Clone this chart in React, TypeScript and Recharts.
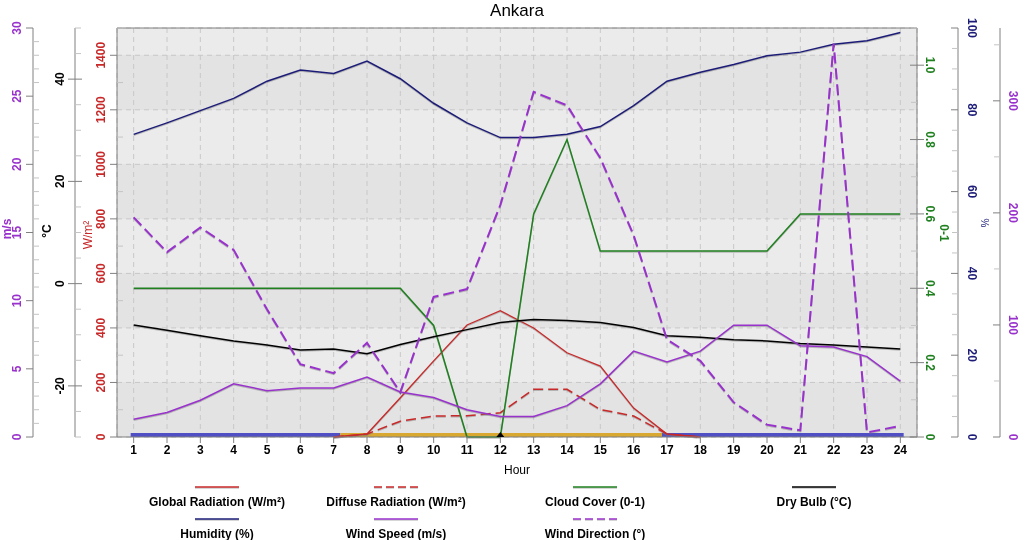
import React from "react";
import { ComposedChart, Line, XAxis, YAxis, CartesianGrid, Scatter, ReferenceLine } from "recharts";

const FONT = "Arial, 'Liberation Sans', sans-serif";
const AXIS_GREY = "#808080";
const MINOR_GREY = "#c4c4c4";

const RED = "#c82828";
const GREEN = "#1f801f";
const BLACK = "#000000";
const NAVY = "#1c1c78";
const PURPLE = "#9932cc";

const HOURS = [1, 2, 3, 4, 5, 6, 7, 8, 9, 10, 11, 12, 13, 14, 15, 16, 17, 18, 19, 20, 21, 22, 23, 24];

// W/m², null = night (not drawn)
const GLOBAL_RADIATION = [null, null, null, null, null, null, 0, 11, 144, 279, 411, 463, 400, 309, 260, 106, 11, 0, null, null, null, null, null, null];
const DIFFUSE_RADIATION = [null, null, null, null, null, null, 0, 11, 58, 77, 78, 89, 175, 175, 101, 77, 11, 0, null, null, null, null, null, null];
// 0-1
const CLOUD_COVER = [0.4, 0.4, 0.4, 0.4, 0.4, 0.4, 0.4, 0.4, 0.4, 0.3, 0, 0, 0.6, 0.8, 0.5, 0.5, 0.5, 0.5, 0.5, 0.5, 0.6, 0.6, 0.6, 0.6];
// °C
const DRY_BULB = [-8.1, -9.1, -10.2, -11.2, -12.0, -13.0, -12.8, -13.7, -11.9, -10.4, -9.0, -7.6, -7.0, -7.2, -7.6, -8.6, -10.2, -10.5, -11.0, -11.2, -11.7, -12.0, -12.4, -12.8];
// %
const HUMIDITY = [74.0, 76.8, 79.8, 82.8, 87.0, 89.7, 88.9, 91.9, 87.6, 81.6, 76.8, 73.2, 73.2, 74.0, 75.9, 81.0, 87.0, 89.2, 91.1, 93.2, 94.1, 96.0, 96.9, 98.9];
// m/s
const WIND_SPEED = [1.3, 1.8, 2.7, 3.9, 3.4, 3.6, 3.6, 4.4, 3.3, 2.9, 2.0, 1.5, 1.5, 2.3, 3.9, 6.3, 5.5, 6.3, 8.2, 8.2, 6.7, 6.6, 5.9, 4.1];
// °
const WIND_DIRECTION = [196, 165, 187, 167, 114, 65, 57, 84, 40, 125, 132, 207, 308, 296, 249, 180, 87, 68, 31, 11, 6, 351, 4, 10];

// day / night strip along the bottom
const DAY_START = 0.91;
const SUNRISE = 7.2;
const SUNSET = 16.85;
const DAY_END = 24.1;
const SOLAR_NOON = 12;
const STRIP_LEVEL = 7;

const RAD_TICKS = [0, 200, 400, 600, 800, 1000, 1200, 1400];
const TEMP_TICKS = [-20, 0, 20, 40];
const SPEED_TICKS = [0, 5, 10, 15, 20, 25, 30];
const CLOUD_TICKS = [0, 0.2, 0.4, 0.6, 0.8, 1.0];
const HUMIDITY_TICKS = [0, 20, 40, 60, 80, 100];
const DIRECTION_TICKS = [0, 100, 200, 300];

const steps = (lo: number, hi: number, step: number) => {
  const out: number[] = [];
  for (let v = lo; v <= hi + 1e-9; v += step) out.push(Math.round(v * 1000) / 1000);
  return out;
};

const data = HOURS.map((hour, i) => ({
  hour,
  globalRad: GLOBAL_RADIATION[i],
  diffuseRad: DIFFUSE_RADIATION[i],
  cloud: CLOUD_COVER[i],
  dryBulb: DRY_BULB[i],
  humidity: HUMIDITY[i],
  windSpeed: WIND_SPEED[i],
  windDir: WIND_DIRECTION[i],
}));

const nightAm = [{ hour: DAY_START, strip: STRIP_LEVEL }, { hour: SUNRISE, strip: STRIP_LEVEL }];
const daylight = [{ hour: SUNRISE, strip: STRIP_LEVEL }, { hour: SUNSET, strip: STRIP_LEVEL }];
const nightPm = [{ hour: SUNSET, strip: STRIP_LEVEL }, { hour: DAY_END, strip: STRIP_LEVEL }];
const noon = [{ hour: SOLAR_NOON, strip: 0 }];

// recharts stacks the y axes of one side in id order, so ids carry a prefix
const SERIES = [
  { key: "globalRad", name: "Global Radiation (W/m²)", color: RED, dash: undefined, width: 1.3, axis: "a_rad" },
  { key: "diffuseRad", name: "Diffuse Radiation (W/m²)", color: RED, dash: "10 5", width: 1.5, axis: "a_rad" },
  { key: "cloud", name: "Cloud Cover (0-1)", color: GREEN, dash: undefined, width: 1.5, axis: "a_cloud" },
  { key: "dryBulb", name: "Dry Bulb (°C)", color: BLACK, dash: undefined, width: 1.5, axis: "b_temp" },
  { key: "humidity", name: "Humidity (%)", color: NAVY, dash: undefined, width: 1.5, axis: "b_hum" },
  { key: "windSpeed", name: "Wind Speed (m/s)", color: PURPLE, dash: undefined, width: 1.5, axis: "c_speed" },
  { key: "windDir", name: "Wind Direction (°)", color: PURPLE, dash: "11 5", width: 2, axis: "c_dir" },
];

type TickCfg = {
  side: "left" | "right";
  color: string;
  major: number[];
  labelDx: number;
  out: number;
  inn: number;
  fmt?: (v: number) => string;
};

const makeTick = (cfg: TickCfg) => (props: any) => {
  const { x, y, payload } = props;
  const v = payload.value;
  const dir = cfg.side === "left" ? -1 : 1;
  const isMajor = cfg.major.some((m) => Math.abs(m - v) < 1e-6);
  if (!isMajor) {
    return <line x1={x} x2={x - dir * 6} y1={y} y2={y} stroke={MINOR_GREY} />;
  }
  return (
    <g>
      <line x1={x + dir * cfg.out} x2={x - dir * cfg.inn} y1={y} y2={y} stroke={AXIS_GREY} />
      <text
        transform={`translate(${x + dir * cfg.labelDx},${y}) rotate(${dir * 90})`}
        textAnchor="middle"
        dominantBaseline="central"
        fill={cfg.color}
        fontSize={12}
        fontWeight="bold"
        fontFamily={FONT}
      >
        {cfg.fmt ? cfg.fmt(v) : v}
      </text>
    </g>
  );
};

const AXIS_TITLES = [
  { text: "m/s", x: 7, y: 229, color: PURPLE, rot: -90, size: 12, bold: true },
  { text: "°C", x: 47, y: 231, color: BLACK, rot: -90, size: 12, bold: true },
  { text: "W/m²", x: 88, y: 235, color: RED, rot: -90, size: 12, bold: false },
  { text: "0-1", x: 944, y: 233, color: GREEN, rot: 90, size: 12, bold: true },
  { text: "%", x: 984, y: 223, color: NAVY, rot: 90, size: 10, bold: false },
];

const LEGEND_SLOTS = [
  [217, 0], [396, 0], [595, 0], [814, 0],
  [217, 1], [396, 1], [595, 1],
];

const shadow = { filter: "drop-shadow(0px 1px 0px rgba(120,120,120,0.45))" };

const axisBase = {
  interval: 0 as const,
  tickLine: false,
  tickSize: 0,
  tickMargin: 0,
  axisLine: { stroke: AXIS_GREY },
};

export default function App() {
  return (
    <div style={{ position: "fixed", left: 0, top: 0, width: 1028, height: 540, fontFamily: FONT }}>
      <ComposedChart width={1028} height={540} data={data} margin={{ top: 28, right: 8, bottom: 58, left: 8 }}>
        <CartesianGrid
          xAxisId="h"
          yAxisId="a_rad"
          stroke="#c8c8c8"
          strokeDasharray="5 4"
          horizontalValues={[1500, ...RAD_TICKS]}
          horizontalFill={["#ebebeb", "#e3e3e3"]}
        />
        <XAxis
          xAxisId="h"
          dataKey="hour"
          type="number"
          domain={[0.5, 24.5]}
          ticks={HOURS}
          interval={0}
          height={45}
          tickSize={6}
          stroke={AXIS_GREY}
          tick={{ fill: "#000", fontSize: 12, fontWeight: "bold", fontFamily: FONT }}
          label={{ value: "Hour", position: "insideBottom", offset: 8, fill: "#000", fontSize: 12, fontFamily: FONT }}
        />
        <YAxis
          yAxisId="a_rad"
          orientation="left"
          width={42}
          domain={[0, 1500]}
          ticks={steps(0, 1500, 100)}
          {...axisBase}
          tick={makeTick({ side: "left", color: RED, major: RAD_TICKS, labelDx: 16, out: 7, inn: 0 })}
        />
        <YAxis
          yAxisId="b_temp"
          orientation="left"
          width={42}
          domain={[-30, 50]}
          ticks={steps(-30, 50, 5)}
          {...axisBase}
          tick={makeTick({ side: "left", color: BLACK, major: TEMP_TICKS, labelDx: 15, out: 7, inn: 7 })}
        />
        <YAxis
          yAxisId="c_speed"
          orientation="left"
          width={25}
          domain={[0, 30]}
          ticks={steps(0, 30, 1)}
          {...axisBase}
          tick={makeTick({ side: "left", color: PURPLE, major: SPEED_TICKS, labelDx: 16, out: 7, inn: 0 })}
        />
        <YAxis
          yAxisId="a_cloud"
          orientation="right"
          width={41}
          domain={[0, 1.1]}
          ticks={steps(0, 1.1, 0.1)}
          {...axisBase}
          tick={makeTick({
            side: "right",
            color: GREEN,
            major: CLOUD_TICKS,
            labelDx: 13,
            out: 7,
            inn: 7,
            fmt: (v) => (v === 0 ? "0" : v.toFixed(1)),
          })}
        />
        <YAxis
          yAxisId="b_hum"
          orientation="right"
          width={42}
          domain={[0, 100]}
          ticks={steps(0, 100, 5)}
          {...axisBase}
          tick={makeTick({ side: "right", color: NAVY, major: HUMIDITY_TICKS, labelDx: 14, out: 0, inn: 7 })}
        />
        <YAxis
          yAxisId="c_dir"
          orientation="right"
          width={20}
          domain={[0, 365]}
          ticks={steps(0, 350, 50)}
          {...axisBase}
          tick={makeTick({ side: "right", color: PURPLE, major: DIRECTION_TICKS, labelDx: 13, out: 0, inn: 7 })}
        />
        <ReferenceLine xAxisId="h" yAxisId="a_rad" y={1500} stroke={AXIS_GREY} />

        <Line xAxisId="h" yAxisId="a_rad" data={nightAm} dataKey="strip" stroke="#5050c4" strokeWidth={4} dot={false} activeDot={false} isAnimationActive={false} />
        <Line xAxisId="h" yAxisId="a_rad" data={daylight} dataKey="strip" stroke="#d8a830" strokeWidth={4} dot={false} activeDot={false} isAnimationActive={false} />
        <Line xAxisId="h" yAxisId="a_rad" data={nightPm} dataKey="strip" stroke="#5050c4" strokeWidth={4} dot={false} activeDot={false} isAnimationActive={false} />

        {SERIES.map((s) => (
          <Line
            key={s.key}
            xAxisId="h"
            yAxisId={s.axis}
            dataKey={s.key}
            stroke={s.color}
            strokeWidth={s.width}
            strokeDasharray={s.dash}
            dot={false}
            activeDot={false}
            style={shadow}
            isAnimationActive={false}
          />
        ))}

        <Scatter
          xAxisId="h"
          yAxisId="a_rad"
          data={noon}
          dataKey="strip"
          isAnimationActive={false}
          shape={(p: any) => (
            <polygon points={`${p.cx - 4},${p.cy} ${p.cx + 4},${p.cy} ${p.cx},${p.cy - 5}`} fill="#000" />
          )}
        />
      </ComposedChart>

      <svg width={1028} height={540} style={{ position: "absolute", left: 0, top: 0, pointerEvents: "none" }}>
        <text x={517} y={16} textAnchor="middle" fontSize={17} fill="#000" fontFamily={FONT}>
          Ankara
        </text>
        {AXIS_TITLES.map((t) => (
          <text
            key={t.text}
            transform={`translate(${t.x},${t.y}) rotate(${t.rot})`}
            textAnchor="middle"
            dominantBaseline="central"
            fill={t.color}
            fontSize={t.size}
            fontWeight={t.bold ? "bold" : "normal"}
            fontFamily={FONT}
          >
            {t.text}
          </text>
        ))}
        {SERIES.map((s, i) => {
          const [cx, row] = LEGEND_SLOTS[i];
          const ly = 487 + row * 32;
          return (
            <g key={s.key}>
              <line x1={cx - 22} x2={cx + 22} y1={ly + 1} y2={ly + 1} stroke="#c8c8c8" strokeWidth={1.5} strokeDasharray={s.dash ? "8 4" : undefined} />
              <line x1={cx - 22} x2={cx + 22} y1={ly} y2={ly} stroke={s.color} strokeWidth={1.5} strokeDasharray={s.dash ? "8 4" : undefined} />
              <text x={cx} y={ly + 15} textAnchor="middle" dominantBaseline="central" fontSize={12} fontWeight="bold" fill="#000" fontFamily={FONT}>
                {s.name}
              </text>
            </g>
          );
        })}
      </svg>
    </div>
  );
}
